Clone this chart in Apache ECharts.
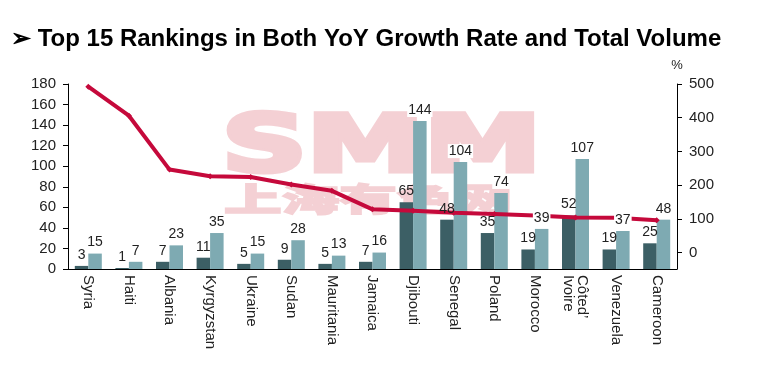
<!DOCTYPE html>
<html><head><meta charset="utf-8">
<script src="https://cdn.jsdelivr.net/npm/echarts@6/dist/echarts.min.js"></script>
<style>html,body{margin:0;padding:0;background:#fff}#c{width:765px;height:381px}</style>
</head><body><div id="c"></div>
<script>
const categories = ['Syria','Haiti','Albania','Kyrgyzstan','Ukraine','Sudan','Mauritania','Jamaica','Djibouti','Senegal','Poland','Morocco','Côted’\nIvoire','Venezuela','Cameroon'];
const darkValues = [3,1,7,11,5,9,5,7,65,48,35,19,52,19,25];
const lightValues = [15,7,23,35,15,28,13,16,144,104,74,39,107,37,48];
const growthRate = [492,406,246,226,224,202,183,128,124,118,114,110,104,103,96];
const leftTicks = [0,20,40,60,80,100,120,140,160,180];
const rightTicks = [0,100,200,300,400,500];

const FONT = 'Liberation Sans';
const chart = echarts.init(document.getElementById('c'), null, {renderer:'canvas'});
const lbl = {show:true, position:'top', fontSize:14, color:'#222', fontFamily:FONT, distance:4};
const wm = '#F4D0D4';
const barCommon = {barWidth:13.5, barGap:'0%'};
chart.setOption({
  animation:false,
  backgroundColor:'#fff',
  title:{text:'➢ Top 15 Rankings in Both YoY Growth Rate and Total Volume', left:6, top:22,
    textStyle:{fontSize:24, fontWeight:'bold', color:'#000', fontFamily:FONT}},
  graphic:[
    {type:'text', x:222, y:112, scaleX:1.51, scaleY:1.0, z:1, silent:true,
     style:{text:'SMM', font:'bold 78px "DejaVu Sans"', fill:wm, stroke:wm, lineWidth:5}},
    {type:'text', x:224, y:183, scaleX:1.8, z:1, silent:true,
     style:{text:'上海有色网', font:'900 32px "Noto Sans CJK SC"', fill:wm, stroke:wm, lineWidth:1.5}}
  ],
  grid:{left:68, right:88, top:84, bottom:112, containLabel:false},
  xAxis:[
    {type:'category', data:categories,
     axisLine:{lineStyle:{color:'#000', width:1}}, axisTick:{show:false},
     axisLabel:{rotate:-90, fontSize:15, color:'#222', fontFamily:FONT, margin:6, lineHeight:14}},
    {type:'category', data:categories, show:false}
  ],
  yAxis:[
    {type:'value', min:0, max:180, interval:20, splitLine:{show:false},
     axisLine:{show:true, lineStyle:{color:'#000'}}, axisTick:{show:true, length:5, lineStyle:{color:'#000'}},
     axisLabel:{fontSize:15, color:'#222', fontFamily:FONT, margin:12}},
    {type:'value', min:-49, max:500, position:'right', splitLine:{show:false},
     name:'%', nameLocation:'end', nameGap:12, nameTextStyle:{fontSize:13, color:'#222', fontFamily:FONT, align:'center'},
     axisLine:{show:true, lineStyle:{color:'#000'}},
     axisTick:{show:true, length:5, lineStyle:{color:'#000'}, customValues:rightTicks},
     axisLabel:{fontSize:15, color:'#222', fontFamily:FONT, margin:12, customValues:rightTicks}}
  ],
  series:[
    Object.assign({type:'bar', data:darkValues, itemStyle:{color:'#3C5F65'}, z:2}, barCommon),
    Object.assign({type:'bar', data:lightValues, itemStyle:{color:'#7EAAB2'}, z:2}, barCommon),
    {type:'line', yAxisIndex:1, data:growthRate, symbol:'diamond', symbolSize:6,
     lineStyle:{color:'#C5093B', width:4}, itemStyle:{color:'#C5093B'}, z:5},
    Object.assign({type:'bar', xAxisIndex:1, data:darkValues, itemStyle:{color:'rgba(0,0,0,0)'}, label:lbl, z:6, silent:true}, barCommon),
    Object.assign({type:'bar', xAxisIndex:1, data:lightValues, itemStyle:{color:'rgba(0,0,0,0)'}, label:Object.assign({}, lbl, {backgroundColor:'#fff', padding:[0,1]}), z:6, silent:true}, barCommon)
  ]
});
</script></body></html>
